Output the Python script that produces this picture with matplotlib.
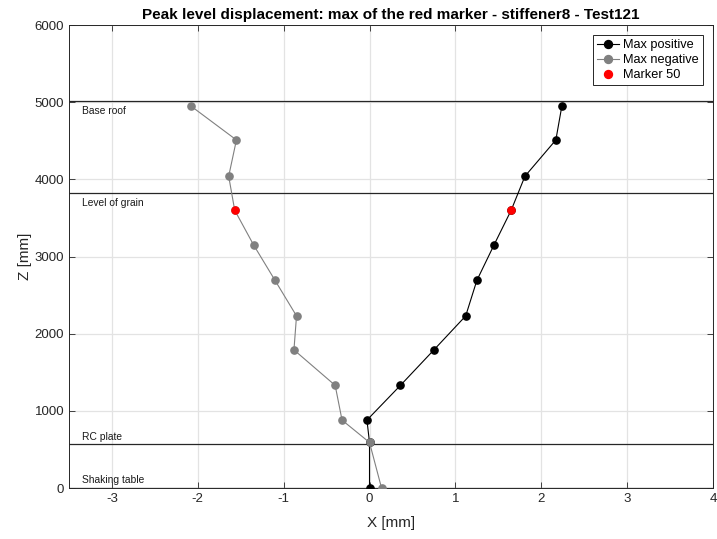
"""
Peak level displacement profile
"""
import matplotlib
matplotlib.use('Agg')
import matplotlib.pyplot as plt

plt.rcParams['font.family'] = ['Liberation Sans', 'DejaVu Sans']
plt.rcParams['axes.unicode_minus'] = False

# heights of the measured levels [mm]
Z_LEVELS = [0, 590, 880, 1330, 1790, 2230, 2690, 3150, 3600, 4040, 4510, 4950]
MAX_POSITIVE = [0.0, 0.0, -0.03, 0.36, 0.75, 1.12, 1.25, 1.45, 1.65, 1.81, 2.17, 2.24]
MAX_NEGATIVE = [0.14, 0.0, -0.32, -0.40, -0.88, -0.85, -1.10, -1.35, -1.57, -1.64, -1.55, -2.08]

# marker 50 (red)
MARKER_Z = 3600
MARKER_POS = 1.65
MARKER_NEG = -1.57

# structural levels
LEVEL_NAMES = ['Base roof', 'Level of grain', 'RC plate', 'Shaking table']
LEVEL_Z = [5010, 3825, 566, 0]
LABEL_Z = [4880, 3695, 665, 105]

OUTFILE = 'out.png'

if __name__ in '__main__':
    fig = plt.figure(figsize=(7.17, 5.39), dpi=100)
    ax = fig.add_axes([0.0962, 0.0946, 0.8982, 0.859])

    for z in LEVEL_Z:
        ax.axhline(z, color='#262626', lw=0.9, zorder=2)
    for name, z in zip(LEVEL_NAMES, LABEL_Z):
        ax.text(-3.35, z, name, fontsize=7.4, va='center', ha='left', color='#1a1a1a')

    ax.plot(MAX_POSITIVE, Z_LEVELS, '-o', color='black', ms=5.2, lw=0.8,
            label='Max positive', zorder=3)
    ax.plot(MAX_NEGATIVE, Z_LEVELS, '-o', color='#808080', ms=5.2, lw=0.8,
            label='Max negative', zorder=3)
    ax.plot([MARKER_NEG, MARKER_POS], [MARKER_Z, MARKER_Z], 'o', color='red',
            ms=5.2, ls='none', label='Marker 50', zorder=4)

    ax.set_xlim(-3.5, 4)
    ax.set_ylim(0, 6000)
    ax.set_xticks([-3, -2, -1, 0, 1, 2, 3, 4])
    ax.set_yticks([0, 1000, 2000, 3000, 4000, 5000, 6000])
    ax.grid(True, color='#e3e3e3', lw=0.9)
    ax.set_axisbelow(True)
    ax.tick_params(direction='in', length=4, width=0.6, labelsize=9.5,
                   colors='#262626', top=True, right=True)
    for s in ax.spines.values():
        s.set_color('#262626')
        s.set_linewidth(0.7)

    ax.set_xlabel('X [mm]', fontsize=11, color='#262626', labelpad=8)
    ax.set_ylabel('Z [mm]', fontsize=11, color='#262626', labelpad=2)
    ax.set_title('Peak level displacement: max of the red marker - stiffener8 - Test121',
                 fontsize=11, fontweight='bold', pad=4)

    leg = ax.legend(loc='upper right', fontsize=9.2, fancybox=False, framealpha=1,
                    edgecolor='#262626', handlelength=1.7, handletextpad=0.35,
                    borderpad=0.3, labelspacing=0.25, borderaxespad=0.8,
                    markerscale=1.1)
    leg.get_frame().set_linewidth(0.7)

    fig.savefig(OUTFILE, dpi=100)
    plt.close('all')
